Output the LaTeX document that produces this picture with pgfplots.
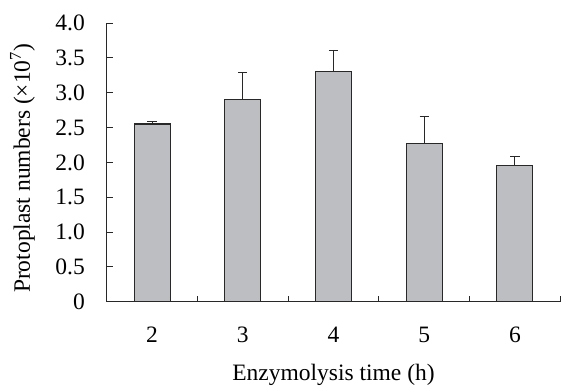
\documentclass[border=0pt]{standalone}
\usepackage{pgfplots}
\pgfplotsset{compat=1.18}
\usepackage{fontspec}
\setmainfont{Liberation Serif}
\definecolor{barfill}{RGB}{189,190,194}
\definecolor{edge}{RGB}{40,40,40}
\begin{document}
\begin{tikzpicture}
\begin{axis}[
  scale only axis,
  at={(0,0)}, anchor=south west,
  width=453.6pt, height=278.7pt,
  xmin=0.5, xmax=5.5, ymin=0, ymax=4,
  axis x line=bottom, axis y line=left,
  axis line style={-, edge, line width=1pt},
  xtick={1,2,3,4,5},
  xticklabels={\textrm{2},\textrm{3},\textrm{4},\textrm{5},\textrm{6}},
  minor xtick={1.5,2.5,3.5,4.5,5.5},
  ytick={0,0.5,1,1.5,2,2.5,3,3.5,4},
  yticklabels={\textrm{0},\textrm{0.5},\textrm{1.0},\textrm{1.5},\textrm{2.0},\textrm{2.5},\textrm{3.0},\textrm{3.5},\textrm{4.0}},
  tick align=inside,
  major x tick style={draw=none},
  major tick length=6pt, minor tick length=6pt,
  tick style={edge, line width=1pt},
  tick label style={font=\fontsize{23.5}{26}\selectfont, inner sep=0pt},
  xticklabel style={anchor=center, yshift=-32.8pt},
  yticklabel style={anchor=east, xshift=-21.7pt},
  label style={font=\fontsize{23.5}{26}\selectfont, inner sep=0pt},
  xlabel={Enzymolysis time (h)},
  ylabel={Protoplast numbers (\texttimes10\textsuperscript{7})},
  xlabel style={at={(axis description cs:0.5,0)}, anchor=center, yshift=-73.3pt},
  ylabel style={at={(axis description cs:0,0.5)}, anchor=center, xshift=-6pt, yshift=84.2pt},
  clip=false,
]
\addplot[ybar, bar width=36pt, fill=barfill, draw=edge, line width=1.1pt,
  error bars/.cd, y dir=plus, y explicit,
  error bar style={edge, line width=1pt},
  error mark options={rotate=90, mark size=4.7pt, edge, line width=1pt}]
  coordinates {
    (1,2.55) +- (0,0.03)
    (2,2.90) +- (0,0.39)
    (3,3.31) +- (0,0.29)
    (4,2.27) +- (0,0.39)
    (5,1.96) +- (0,0.12)
  };
\end{axis}
\pgfresetboundingbox
\path[use as bounding box] (-106.7pt,-84.3pt) rectangle (454.3pt,301.7pt);
\end{tikzpicture}
\end{document}
